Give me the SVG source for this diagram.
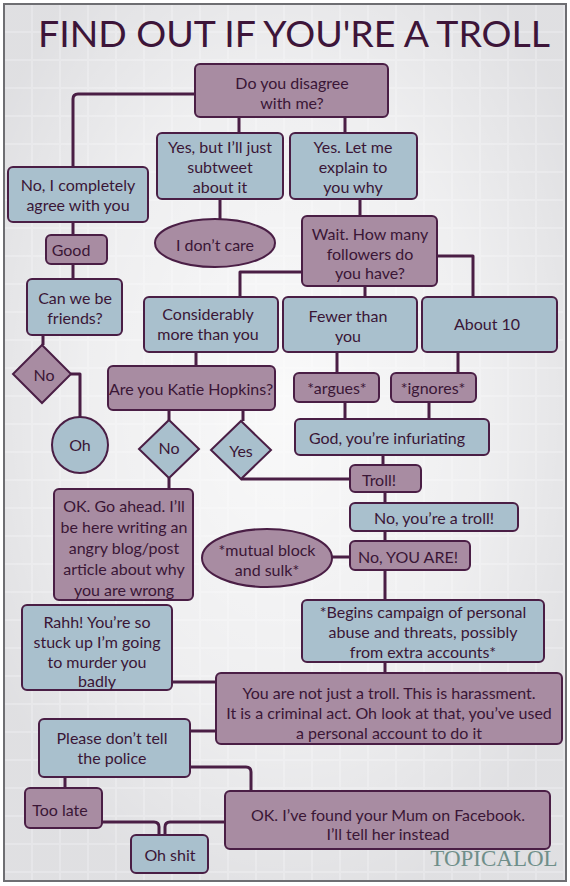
<svg xmlns="http://www.w3.org/2000/svg" width="570" height="886" viewBox="0 0 570 886">
<defs>
<pattern id="tiles" x="4" y="4" width="28" height="28" patternUnits="userSpaceOnUse">
<rect x="1" y="1" width="26" height="26" fill="#dadadd"/>
</pattern>
<radialGradient id="glow" cx="0.5" cy="0.45" r="0.6">
<stop offset="0" stop-color="#ffffff" stop-opacity="0.85"/>
<stop offset="0.6" stop-color="#ffffff" stop-opacity="0.55"/>
<stop offset="1" stop-color="#ffffff" stop-opacity="0.15"/>
</radialGradient>
<style>
.p{fill:#a88ca2;stroke:#4a1e45;stroke-width:2}
.b{fill:#a9c0cd;stroke:#4a1e45;stroke-width:2}
text{font-family:Lato,"Open Sans","Liberation Sans",sans-serif;fill:#3a1636;font-size:16px;text-anchor:middle;dominant-baseline:central}
.c{fill:none;stroke:#4a1e45;stroke-width:3;stroke-linejoin:round}
</style>
</defs>
<rect width="570" height="886" fill="#ffffff"/>
<rect x="4" y="4" width="562" height="877" fill="#e2e2e5"/>
<rect x="4" y="4" width="562" height="877" fill="url(#tiles)"/>
<rect x="4" y="4" width="562" height="877" fill="url(#glow)"/>
<rect x="4" y="4" width="562" height="877" fill="none" stroke="#6e6e72" stroke-width="2"/>
<text x="294" y="32" style="font-size:37px;fill:#3d1539" textLength="512" lengthAdjust="spacingAndGlyphs">FIND OUT IF YOU'RE A TROLL</text>

<g id="connectors">
<path class="c" d="M195 94 H78 Q73 94 73 99 V167"/>
<path class="c" d="M239 117 V133 M345 117 V133"/>
<path class="c" d="M73 222 V235 M73 264 V279 M43 335 V345"/>
<path class="c" d="M71 374 H80 V417"/>
<path class="c" d="M220 199 V219 M360 199 V216"/>
<path class="c" d="M302 272 H240 V297 M365 286 V297 M437 256 H473 V297"/>
<path class="c" d="M196 352 V366 M169 410 V420 M243 410 V421 M169 478 V489"/>
<path class="c" d="M241 479 H350"/>
<path class="c" d="M337 352 V373 M458 352 V373 M345 402 V419 M429 402 V419"/>
<path class="c" d="M383 455 V465 M385 492 V503 M385 531 V541 M332 557 H350 M385 570 V600 M385 662 V673"/>
<path class="c" d="M172 682 H216 M190 731 H216 M65 777 V788 M190 767 H246 Q251 767 251 772 V791"/>
<path class="c" d="M102 822 H154 Q159 822 159 827 V835 M225 822 H170 Q165 822 165 827 V835"/>
</g>

<g id="q1"><rect class="p" x="195" y="64" width="193" height="53" rx="5"/><text x="292" y="82">Do you disagree</text><text x="292" y="102">with me?</text></g>
<g id="agree"><rect class="b" x="8" y="167" width="140" height="55" rx="5"/><text x="78" y="184">No, I completely</text><text x="78" y="204">agree with you</text></g>
<g id="good"><rect class="p" x="46" y="235" width="61" height="29" rx="5"/><text x="71" y="249">Good</text></g>
<g id="friends"><rect class="b" x="27" y="279" width="95" height="56" rx="5"/><text x="75" y="297">Can we be</text><text x="75" y="317">friends?</text></g>
<g id="no1"><polygon class="p" points="42,345 71,374 42,403 13,374"/><text x="44" y="374">No</text></g>
<g id="oh"><circle class="b" cx="80" cy="445" r="28"/><text x="80" y="444">Oh</text></g>
<g id="subtweet"><rect class="b" x="157" y="133" width="126" height="66" rx="5"/><text x="220" y="146">Yes, but I’ll just</text><text x="220" y="166">subtweet</text><text x="220" y="186">about it</text></g>
<g id="dontcare"><ellipse class="p" cx="215" cy="243" rx="60" ry="24"/><text x="215" y="244">I don’t care</text></g>
<g id="explain"><rect class="b" x="290" y="133" width="127" height="66" rx="5"/><text x="353" y="146">Yes. Let me</text><text x="353" y="166">explain to</text><text x="353" y="186">you why</text></g>
<g id="wait"><rect class="p" x="302" y="216" width="135" height="70" rx="5"/><text x="370" y="233">Wait. How many</text><text x="370" y="253">followers do</text><text x="370" y="272">you have?</text></g>
<g id="considerably"><rect class="b" x="144" y="297" width="134" height="55" rx="5"/><text x="208" y="313">Considerably</text><text x="208" y="333">more than you</text></g>
<g id="fewer"><rect class="b" x="283" y="297" width="134" height="55" rx="5"/><text x="348" y="315">Fewer than</text><text x="348" y="335">you</text></g>
<g id="about10"><rect class="b" x="422" y="297" width="135" height="55" rx="5"/><text x="487" y="323">About 10</text></g>
<g id="katie"><rect class="p" x="108" y="366" width="167" height="44" rx="5"/><text x="191" y="388">Are you Katie Hopkins?</text></g>
<g id="no2"><polygon class="b" points="169,420 199,449 169,478 139,449"/><text x="169" y="447">No</text></g>
<g id="yes"><polygon class="b" points="241,421 271,450 241,479 211,450"/><text x="241" y="450">Yes</text></g>
<g id="argues"><rect class="p" x="294" y="373" width="85" height="29" rx="5"/><text x="337" y="387">*argues*</text></g>
<g id="ignores"><rect class="p" x="391" y="373" width="85" height="29" rx="5"/><text x="433" y="387">*ignores*</text></g>
<g id="god"><rect class="b" x="295" y="419" width="194" height="36" rx="5"/><text x="387" y="437">God, you’re infuriating</text></g>
<g id="troll"><rect class="p" x="350" y="465" width="71" height="27" rx="5"/><text x="379" y="479">Troll!</text></g>
<g id="notroll"><rect class="b" x="350" y="503" width="168" height="28" rx="5"/><text x="434" y="517">No, you’re a troll!</text></g>
<g id="youare"><rect class="p" x="350" y="541" width="120" height="29" rx="5"/><text x="408" y="556">No, YOU ARE!</text></g>
<g id="sulk"><ellipse class="p" cx="267" cy="558" rx="65" ry="29"/><text x="267" y="549">*mutual block</text><text x="267" y="569">and sulk*</text></g>
<g id="begins"><rect class="b" x="302" y="600" width="242" height="62" rx="5"/><text x="423" y="611">*Begins campaign of personal</text><text x="423" y="631">abuse and threats, possibly</text><text x="423" y="651">from extra accounts*</text></g>
<g id="okgo"><rect class="p" x="54" y="489" width="139" height="111" rx="5"/><text x="124" y="505">OK. Go ahead. I’ll</text><text x="124" y="526">be here writing an</text><text x="124" y="547">angry blog/post</text><text x="124" y="568">article about why</text><text x="124" y="589">you are wrong</text></g>
<g id="rahh"><rect class="b" x="22" y="605" width="150" height="85" rx="5"/><text x="97" y="621">Rahh! You’re so</text><text x="97" y="641">stuck up I’m going</text><text x="97" y="661">to murder you</text><text x="97" y="680">badly</text></g>
<g id="notjust"><rect class="p" x="216" y="673" width="346" height="71" rx="5"/><text x="389" y="692">You are not just a troll. This is harassment.</text><text x="389" y="712">It is a criminal act. Oh look at that, you’ve used</text><text x="389" y="732">a personal account to do it</text></g>
<g id="please"><rect class="b" x="39" y="719" width="151" height="58" rx="5"/><text x="112" y="737">Please don’t tell</text><text x="112" y="757">the police</text></g>
<g id="toolate"><rect class="p" x="25" y="788" width="77" height="40" rx="5"/><text x="60" y="809">Too late</text></g>
<g id="mum"><rect class="p" x="225" y="791" width="325" height="58" rx="5"/><text x="388" y="814">OK. I’ve found your Mum on Facebook.</text><text x="388" y="833">I’ll tell her instead</text></g>
<g id="ohshit"><rect class="b" x="131" y="835" width="77" height="38" rx="5"/><text x="170" y="854">Oh shit</text></g>
<text x="494" y="858" style="font-family:'Liberation Serif',serif;font-size:23px;fill:#6f8f8a">TOPICALOL</text>
</svg>
